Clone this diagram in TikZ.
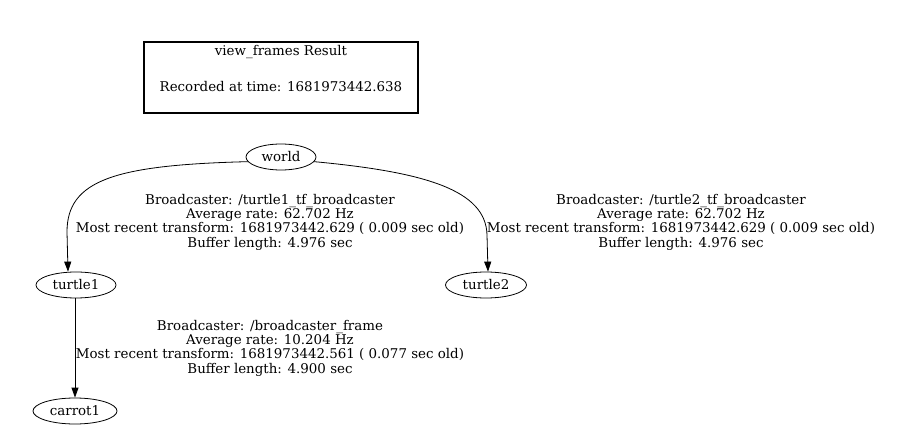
\documentclass[tikz,border=0pt]{standalone}
\usepackage{fontspec}
\setmainfont{DejaVu Serif}
\usetikzlibrary{shapes.geometric,arrows.meta}
\begin{document}
\begin{tikzpicture}[x=1pt,y=-1pt,
  frame/.style={draw,ellipse,line width=0.8pt,inner sep=0pt,minimum height=26pt,font=\fontsize{13.4}{14.3}\selectfont},
  lbl/.style={align=center,inner sep=0pt,font=\fontsize{13.4}{14.3}\selectfont},
  edge/.style={draw,-{Triangle[length=10pt,width=7pt]},line width=0.8pt}]
\useasboundingbox[fill=white] (0,0) rectangle (912,443);
\node[draw,line width=1.6pt,minimum width=274pt,minimum height=71pt,inner sep=0pt] (title) at (281,77.5) {};
\node[font=\fontsize{13.4}{14.3}\selectfont] (t1) at (281,52) {view\_frames Result};
\node[font=\fontsize{13.4}{14.3}\selectfont] (t2) at (281,87) {Recorded at time: 1681973442.638};
\node[frame,minimum width=70pt] (world) at (281,157) {world};
\node[frame,minimum width=80pt] (turtle1) at (76,285) {turtle1};
\node[frame,minimum width=81pt] (turtle2) at (486,285) {turtle2};
\node[frame,minimum width=84pt] (carrot1) at (75,411) {carrot1};
\draw[edge] (world.188) .. controls (115,165) and (67,180) .. (67,232) -- (turtle1.north -| 68,0);
\draw[edge] (world.-8) .. controls (425,172) and (486,190) .. (487,235) -- (turtle2.north -| 488,0);
\draw[edge] (turtle1.south -| 75,0) -- (carrot1.north -| 75,0);
\node[lbl] (l1) at (270,222) {Broadcaster: /turtle1\_tf\_broadcaster\\Average rate: 62.702 Hz\\Most recent transform: 1681973442.629 ( 0.009 sec old)\\Buffer length: 4.976 sec};
\node[lbl] (l2) at (681,222) {Broadcaster: /turtle2\_tf\_broadcaster\\Average rate: 62.702 Hz\\Most recent transform: 1681973442.629 ( 0.009 sec old)\\Buffer length: 4.976 sec};
\node[lbl] (l3) at (270,348) {Broadcaster: /broadcaster\_frame\\Average rate: 10.204 Hz\\Most recent transform: 1681973442.561 ( 0.077 sec old)\\Buffer length: 4.900 sec};
\end{tikzpicture}
\end{document}
